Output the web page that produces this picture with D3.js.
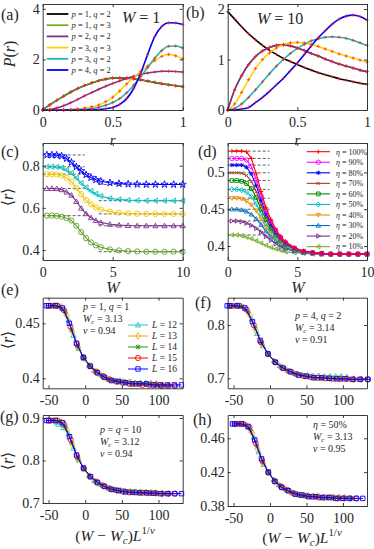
<!DOCTYPE html>
<html>
<head>
<meta charset="utf-8">
<script src="https://cdnjs.cloudflare.com/ajax/libs/d3/7.8.5/d3.min.js"></script>
<style>
  body { margin: 0; background: #fff; }
  svg { font-family: "Liberation Serif", "DejaVu Serif", serif; }
</style>
</head>
<body>
<div id="fig"></div>
<script>
// ---------------- data ----------------
// (a),(b): P(r) on a grid of r
const rGrid = [0,0.05,0.1,0.15,0.2,0.25,0.3,0.35,0.4,0.45,0.5,0.55,0.6,0.65,0.7,0.75,0.8,0.85,0.9,0.95,1];
const pqLabels = ["p = 1, q = 2","p = 1, q = 3","p = 2, q = 2","p = 3, q = 3","p = 3, q = 2","p = 4, q = 2"];
const pqColors = ["#000000","#77ac30","#7e2f8e","#ffd200","#22b5b5","#0000ff"];

// W = 1
const w1_p1q2 = [0,0.2,0.38,0.55,0.71,0.85,0.97,1.07,1.16,1.22,1.26,1.27,1.26,1.23,1.19,1.14,1.09,1.04,1.0,0.96,0.92];
const w1_p1q3 = [0,0.2,0.38,0.55,0.71,0.85,0.97,1.08,1.16,1.22,1.26,1.27,1.26,1.23,1.19,1.15,1.1,1.05,1.0,0.96,0.93];
const w1_p2q2 = [0,0.02,0.08,0.17,0.29,0.42,0.56,0.69,0.82,0.94,1.05,1.15,1.25,1.33,1.4,1.46,1.5,1.53,1.53,1.52,1.5];
const w1_p3q3 = [0,0,0,0.01,0.02,0.04,0.08,0.13,0.2,0.33,0.5,0.75,1.03,1.28,1.52,1.74,1.95,2.12,2.2,2.14,2.02];
const w1_p3q2 = [0,0,0,0,0.01,0.02,0.03,0.06,0.11,0.19,0.3,0.45,0.68,0.98,1.32,1.68,2.05,2.35,2.52,2.53,2.45];
const w1_p4q2 = [0,0,0,0,0,0,0,0.01,0.02,0.05,0.1,0.22,0.45,0.85,1.45,2.2,2.9,3.3,3.45,3.44,3.38];

// W = 10
const w10_p1q2 = [1.95,1.8,1.65,1.51,1.39,1.28,1.18,1.1,1.02,0.96,0.9,0.84,0.79,0.74,0.7,0.66,0.62,0.59,0.56,0.53,0.51];
const w10_p1q3 = [0,0.4,0.68,0.9,1.06,1.17,1.24,1.28,1.29,1.27,1.23,1.18,1.12,1.07,1.01,0.96,0.91,0.87,0.83,0.79,0.76];
const w10_p2q2 = [0,0.4,0.68,0.9,1.06,1.17,1.24,1.28,1.29,1.27,1.23,1.18,1.12,1.07,1.01,0.96,0.91,0.87,0.83,0.79,0.76];
const w10_p3q3 = [0,0.12,0.35,0.6,0.82,1.0,1.13,1.23,1.3,1.33,1.34,1.33,1.3,1.26,1.21,1.16,1.11,1.07,1.03,0.99,0.95];
const w10_p3q2 = [0,0.03,0.12,0.25,0.4,0.56,0.72,0.87,1.0,1.12,1.22,1.3,1.37,1.41,1.44,1.45,1.44,1.42,1.38,1.33,1.28];
const w10_p4q2 = [0,0,0.02,0.05,0.15,0.25,0.37,0.5,0.63,0.78,0.93,1.1,1.27,1.43,1.57,1.7,1.8,1.86,1.88,1.85,1.78];

// (c),(d): <r> versus W
const wGrid = [0.3,0.65,1,1.35,1.7,2.05,2.4,2.75,3.1,3.45,3.8,4.15,4.8,5.45,6.1,6.75,7.4,8.05,8.7,9.35,10];
const c_p4q2 = [0.851,0.851,0.850,0.846,0.834,0.816,0.795,0.775,0.757,0.744,0.733,0.726,0.719,0.715,0.713,0.712,0.711,0.711,0.711,0.711,0.711];
const c_p3q2 = [0.795,0.795,0.794,0.790,0.780,0.765,0.742,0.717,0.697,0.680,0.666,0.656,0.645,0.640,0.637,0.635,0.634,0.634,0.634,0.634,0.634];
const c_p3q3 = [0.760,0.760,0.759,0.754,0.742,0.724,0.695,0.665,0.637,0.617,0.602,0.592,0.582,0.577,0.574,0.572,0.571,0.571,0.571,0.571,0.571];
const c_p2q2 = [0.692,0.692,0.691,0.686,0.675,0.660,0.630,0.598,0.572,0.553,0.540,0.531,0.522,0.518,0.516,0.515,0.515,0.515,0.515,0.515,0.515];
const c_p1q2 = [0.563,0.563,0.562,0.558,0.551,0.540,0.515,0.485,0.456,0.436,0.422,0.413,0.403,0.398,0.395,0.393,0.392,0.392,0.392,0.392,0.392];
const cUpper = [0.851,0.795,0.760,0.692,0.563];
const cLower = [0.711,0.634,0.571,0.515,0.392];

const etaLabels = ["100%","90%","80%","70%","60%","50%","40%","30%","20%","10%"];
const eta100 = [0.529,0.529,0.529,0.528,0.519,0.498,0.474,0.452,0.436,0.423,0.413,0.406,0.398,0.393,0.391,0.390,0.389,0.389,0.389,0.389,0.389];
const eta90  = [0.519,0.519,0.519,0.517,0.508,0.490,0.468,0.448,0.433,0.421,0.412,0.405,0.397,0.393,0.391,0.390,0.389,0.389,0.389,0.389,0.389];
const eta80  = [0.510,0.510,0.510,0.507,0.498,0.482,0.462,0.444,0.430,0.419,0.411,0.404,0.397,0.393,0.391,0.390,0.389,0.389,0.389,0.389,0.389];
const eta70  = [0.4995,0.4995,0.499,0.496,0.488,0.474,0.456,0.440,0.427,0.417,0.409,0.403,0.396,0.392,0.391,0.390,0.389,0.389,0.389,0.389,0.389];
const eta60  = [0.489,0.489,0.488,0.485,0.478,0.466,0.450,0.436,0.424,0.415,0.408,0.402,0.396,0.392,0.391,0.390,0.389,0.389,0.389,0.389,0.389];
const eta50  = [0.477,0.477,0.476,0.473,0.467,0.457,0.444,0.431,0.421,0.413,0.406,0.401,0.395,0.392,0.390,0.390,0.389,0.389,0.389,0.389,0.389];
const eta40  = [0.465,0.465,0.464,0.461,0.456,0.448,0.437,0.426,0.417,0.410,0.404,0.400,0.395,0.392,0.390,0.389,0.389,0.389,0.389,0.389,0.389];
const eta30  = [0.450,0.450,0.449,0.447,0.443,0.437,0.429,0.420,0.413,0.407,0.402,0.398,0.394,0.391,0.390,0.389,0.389,0.389,0.389,0.389,0.389];
const eta20  = [0.434,0.434,0.433,0.431,0.428,0.424,0.419,0.413,0.408,0.403,0.399,0.396,0.393,0.391,0.390,0.389,0.389,0.389,0.389,0.389,0.389];
const eta10  = [0.415,0.415,0.414,0.412,0.410,0.407,0.404,0.401,0.398,0.396,0.394,0.392,0.391,0.390,0.389,0.389,0.389,0.389,0.389,0.389,0.389];
const dUpper = [0.529,0.519,0.510,0.4995,0.489,0.477,0.465,0.450,0.434,0.415];

// (e)-(h): <r>(W, L), plotted against (W - Wc) L^(1/nu)
const wScal = [0.35,0.5,1,1.5,2,2.5,3,3.5,4,4.5,5,5.5,6,6.5,7,7.5,8,8.5,9,9.5,10];
const Lsizes = [12,13,14,15,16];
const eFit = [3.13, 0.94], fFit = [3.14, 0.91], gFit = [3.12, 0.94], hFit = [3.13, 0.95];

const eL12 = [0.466,0.466,0.463,0.453,0.439,0.427,0.418,0.412,0.407,0.404,0.401,0.399,0.398,0.398,0.397,0.397,0.396,0.396,0.396,0.396,0.395];
const eL13 = [0.466,0.466,0.465,0.457,0.442,0.428,0.418,0.411,0.406,0.403,0.400,0.398,0.397,0.397,0.396,0.395,0.395,0.395,0.395,0.395,0.394];
const eL14 = [0.466,0.466,0.465,0.460,0.444,0.429,0.419,0.411,0.406,0.402,0.399,0.398,0.397,0.396,0.395,0.395,0.395,0.394,0.394,0.394,0.394];
const eL15 = [0.466,0.466,0.466,0.462,0.447,0.431,0.419,0.411,0.406,0.402,0.399,0.397,0.396,0.395,0.395,0.394,0.394,0.394,0.393,0.393,0.393];
const eL16 = [0.466,0.466,0.466,0.464,0.450,0.432,0.419,0.411,0.405,0.401,0.398,0.397,0.396,0.395,0.395,0.395,0.394,0.394,0.394,0.394,0.394];

const fL12 = [0.836,0.835,0.830,0.811,0.784,0.761,0.745,0.733,0.724,0.718,0.713,0.709,0.707,0.706,0.705,0.705,0.704,0.704,0.704,0.704,0.703];
const fL13 = [0.836,0.836,0.833,0.818,0.789,0.763,0.745,0.731,0.721,0.715,0.710,0.706,0.704,0.703,0.701,0.701,0.700,0.700,0.699,0.699,0.699];
const fL14 = [0.836,0.836,0.835,0.824,0.795,0.766,0.746,0.731,0.721,0.714,0.708,0.705,0.703,0.701,0.700,0.700,0.699,0.699,0.699,0.698,0.698];
const fL15 = [0.836,0.836,0.836,0.829,0.800,0.768,0.746,0.730,0.720,0.713,0.708,0.704,0.702,0.701,0.700,0.699,0.699,0.699,0.698,0.698,0.698];
const fL16 = [0.836,0.836,0.836,0.832,0.806,0.771,0.746,0.730,0.719,0.712,0.706,0.704,0.701,0.701,0.700,0.699,0.699,0.698,0.698,0.698,0.698];

const gL12 = [0.890,0.885,0.877,0.863,0.829,0.801,0.780,0.765,0.753,0.745,0.739,0.735,0.732,0.731,0.729,0.728,0.727,0.727,0.726,0.726,0.725];
const gL13 = [0.894,0.894,0.891,0.872,0.836,0.803,0.780,0.763,0.751,0.743,0.737,0.732,0.730,0.728,0.726,0.725,0.725,0.724,0.724,0.723,0.723];
const gL14 = [0.894,0.894,0.892,0.879,0.842,0.806,0.782,0.763,0.750,0.742,0.735,0.731,0.728,0.726,0.725,0.724,0.724,0.723,0.723,0.722,0.722];
const gL15 = [0.894,0.894,0.894,0.885,0.849,0.810,0.782,0.762,0.750,0.741,0.734,0.730,0.727,0.725,0.725,0.724,0.723,0.723,0.722,0.722,0.722];
const gL16 = [0.894,0.894,0.894,0.889,0.856,0.813,0.782,0.762,0.748,0.739,0.732,0.729,0.726,0.725,0.724,0.724,0.723,0.722,0.722,0.722,0.722];

const hL12 = [0.477,0.477,0.473,0.461,0.444,0.429,0.419,0.411,0.405,0.401,0.398,0.396,0.394,0.393,0.393,0.392,0.392,0.391,0.391,0.391,0.391];
const hL13 = [0.477,0.477,0.475,0.466,0.447,0.430,0.419,0.410,0.404,0.400,0.396,0.394,0.393,0.392,0.391,0.391,0.390,0.390,0.390,0.390,0.390];
const hL14 = [0.477,0.477,0.476,0.469,0.451,0.432,0.420,0.410,0.404,0.399,0.396,0.393,0.392,0.391,0.391,0.390,0.390,0.390,0.389,0.389,0.389];
const hL15 = [0.477,0.477,0.477,0.473,0.454,0.434,0.420,0.409,0.403,0.399,0.395,0.393,0.392,0.391,0.390,0.390,0.390,0.389,0.389,0.389,0.389];
const hL16 = [0.477,0.477,0.477,0.474,0.458,0.436,0.420,0.409,0.402,0.398,0.394,0.393,0.391,0.391,0.390,0.390,0.389,0.389,0.389,0.389,0.389];

// ---------------- drawing helpers ----------------
const ink = "#262626";
const svg = d3.select("#fig").append("svg").attr("width", 374).attr("height", 549);

// marker outlines (MATLAB style), centred on 0,0
function sym(type, s) {
  const k = s * 0.75;
  switch (type) {
    case "+": return `M${-s},0H${s}M0,${-s}V${s}`;
    case "x": return `M${-k},${-k}L${k},${k}M${-k},${k}L${k},${-k}`;
    case "*": return `M${-s},0H${s}M0,${-s}V${s}M${-k},${-k}L${k},${k}M${-k},${k}L${k},${-k}`;
    case "o": return `M${s},0A${s},${s} 0 1,1 ${-s},0A${s},${s} 0 1,1 ${s},0Z`;
    case "s": return `M${-s*0.85},${-s*0.85}H${s*0.85}V${s*0.85}H${-s*0.85}Z`;
    case "d": return `M0,${-s*1.2}L${s},0L0,${s*1.2}L${-s},0Z`;
    case "^": return `M0,${-s}L${s},${k}L${-s},${k}Z`;
    case "v": return `M0,${s}L${s},${-k}L${-s},${-k}Z`;
    case "<": return `M${-s},0L${k},${-s}L${k},${s}Z`;
    case ">": return `M${s},0L${-k},${-s}L${-k},${s}Z`;
    case "p": return d3.symbol(d3.symbolStar, s * s * 2.4)();
  }
}

// math-ish text: letters italic, _x / ^{..} sub/superscripts
function tex(sel, x, y, str, size, anchor) {
  const t = sel.append("text").attr("x", x).attr("y", y)
    .attr("font-size", size).attr("fill", ink)
    .attr("text-anchor", anchor || "start");
  const re = /([_^])(\{[^}]*\}|.)|([^_^]+)/g;
  let m, cur = 0;
  while ((m = re.exec(str))) {
    let level = 0, s;
    if (m[1]) { level = m[1] === "^" ? 1 : -1; s = m[2][0] === "{" ? m[2].slice(1, -1) : m[2]; }
    else s = m[3];
    const fs = level ? size * 0.7 : size;
    const target = level === 1 ? -0.42 * size : level === -1 ? 0.22 * size : 0;
    const runs = s.match(/[A-Za-z\u03b1-\u03c9]+|[^A-Za-z\u03b1-\u03c9]+/g) || [];
    runs.forEach((r, i) => {
      const sp = t.append("tspan").text(r).attr("font-size", fs);
      if (/[A-Za-z\u03b1-\u03c9]/.test(r)) sp.attr("font-style", "italic");
      if (i === 0 && target !== cur) { sp.attr("dy", target - cur); cur = target; }
    });
  }
  return t;
}

// upright panel tag such as (a)
function tag(x, y, str) {
  svg.append("text").attr("x", x).attr("y", y).attr("font-size", 16)
    .attr("fill", ink).text(str);
}

function makePanel(id, b, xd, yd) {
  const x = d3.scaleLinear().domain(xd).range([b.l, b.r]);
  const y = d3.scaleLinear().domain(yd).range([b.b, b.t]);
  svg.append("clipPath").attr("id", "clip-" + id).append("rect")
    .attr("x", b.l - 4).attr("y", b.t - 4).attr("width", b.r - b.l + 8).attr("height", b.b - b.t + 8);
  const g = svg.append("g");
  const plot = g.append("g").attr("clip-path", `url(#clip-${id})`);
  return { g, plot, x, y, b };
}

function drawAxes(p, xt, yt) {
  const fmt = d => String(d);
  const put = (ax, tr) => p.g.append("g").attr("transform", tr).call(ax)
    .call(s => s.selectAll("path,line").attr("stroke", ink).attr("stroke-width", 0.9))
    .call(s => s.selectAll("text").attr("fill", ink))
    .attr("font-size", 14).attr("font-family", null);
  put(d3.axisBottom(p.x).tickValues(xt).tickSizeInner(-3).tickSizeOuter(0).tickPadding(7).tickFormat(fmt), `translate(0,${p.b.b})`);
  put(d3.axisTop(p.x).tickValues(xt).tickSizeInner(-3).tickSizeOuter(0).tickFormat(""), `translate(0,${p.b.t})`);
  put(d3.axisLeft(p.y).tickValues(yt).tickSizeInner(-3).tickSizeOuter(0).tickPadding(3).tickFormat(fmt), `translate(${p.b.l},0)`);
  put(d3.axisRight(p.y).tickValues(yt).tickSizeInner(-3).tickSizeOuter(0).tickFormat(""), `translate(${p.b.r},0)`);
}

// line + markers through the panel scales
function series(p, xs, ys, color, mk, s, lw, curve) {
  const line = d3.line().x((d, i) => p.x(xs[i])).y(d => p.y(d));
  if (curve) line.curve(curve);
  p.plot.append("path").datum(ys).attr("d", line)
    .attr("fill", "none").attr("stroke", color).attr("stroke-width", lw);
  if (mk) {
    p.plot.append("g").selectAll("path").data(ys).enter().append("path")
      .attr("transform", (d, i) => `translate(${p.x(xs[i])},${p.y(d)})`)
      .attr("d", sym(mk, s)).attr("fill", "none")
      .attr("stroke", color).attr("stroke-width", 0.9);
  }
}

function redDots(p, xs, ys) {
  p.plot.append("g").selectAll("path").data(ys).enter().append("path")
    .attr("transform", (d, i) => `translate(${p.x(xs[i])},${p.y(d)})`)
    .attr("d", sym("+", 1.7)).attr("stroke", "#ff2020").attr("stroke-width", 0.8)
    .attr("opacity", 0.85);
}

function dashed(p, x0, x1, v) {
  p.plot.append("line")
    .attr("x1", p.x(x0)).attr("x2", p.x(x1)).attr("y1", p.y(v)).attr("y2", p.y(v))
    .attr("stroke", "#333").attr("stroke-width", 0.8).attr("stroke-dasharray", "3,2");
}

function rotLabel(x, y, str, size) {
  const g = svg.append("g").attr("transform", `translate(${x},${y}) rotate(-90)`);
  tex(g, 0, 0, str, size, "middle");
}

// ---------------- (a) and (b) ----------------
const pa = makePanel("a", { l: 42.7, r: 182.7, t: 4, b: 110 }, [0, 1], [0, 4.19]);
const pb = makePanel("b", { l: 227.7, r: 367, t: 4, b: 110 }, [0, 1], [0, 2.1]);
const aSets = [w1_p1q2, w1_p1q3, w1_p2q2, w1_p3q3, w1_p3q2, w1_p4q2];
const bSets = [w10_p1q2, w10_p1q3, w10_p2q2, w10_p3q3, w10_p3q2, w10_p4q2];
aSets.forEach((ys, i) => series(pa, rGrid, ys, pqColors[i], null, 0, i === 1 ? 1.2 : 1.6, d3.curveMonotoneX));
bSets.forEach((ys, i) => series(pb, rGrid, ys, pqColors[i], null, 0, 1.6, d3.curveMonotoneX));
aSets.forEach(ys => redDots(pa, rGrid, ys));
bSets.forEach(ys => redDots(pb, rGrid, ys));
drawAxes(pa, [0, 0.5, 1], [0, 2, 4]);
drawAxes(pb, [0, 0.5, 1], [0, 1, 2]);

// legend of (a)
pqLabels.forEach((lab, i) => {
  const yy = 14 + i * 11.2;
  svg.append("line").attr("x1", 46.7).attr("x2", 68.3).attr("y1", yy).attr("y2", yy)
    .attr("stroke", pqColors[i]).attr("stroke-width", 1.8);
  tex(svg, 71.5, yy + 3, lab, 8.5);
});
tex(svg, 122, 23, "W = 1", 16);
tex(svg, 257, 24, "W = 10", 16);
tag(1, 20, "(a)");
tag(186, 18, "(b)");
tex(svg, 112.7, 144.5, "r", 15, "middle");
tex(svg, 297.5, 144.5, "r", 15, "middle");
rotLabel(15, 54, "P(r)", 16);

// ---------------- (c) ----------------
const pc = makePanel("c", { l: 42.7, r: 182.7, t: 143, b: 260 }, [0, 10], [0.3526, 0.9077]);
const cSets = [c_p4q2, c_p3q2, c_p3q3, c_p2q2, c_p1q2];
const cColors = ["#0000ff", "#00bcbc", "#f2c500", "#7e2f8e", "#5f9e2a"];
const cMarks = ["p", "<", "o", "^", "o"];
cUpper.forEach(v => dashed(pc, 0, 3, v));
cLower.forEach(v => dashed(pc, 4, 10, v));
cSets.forEach((ys, i) => series(pc, wGrid, ys, cColors[i], cMarks[i], 2.6, 1.1));
drawAxes(pc, [0, 5, 10], [0.4, 0.6, 0.8]);
tag(1, 157, "(c)");
tex(svg, 113, 293, "W", 16, "middle");
rotLabel(13, 197, "\u27e8r\u27e9", 16);

// ---------------- (d) ----------------
const pd = makePanel("d", { l: 227.7, r: 367, t: 143, b: 260 }, [0, 10], [0.381, 0.540]);
const dSets = [eta100, eta90, eta80, eta70, eta60, eta50, eta40, eta30, eta20, eta10];
const dColors = ["#ff0000", "#ff00ff", "#0000ff", "#a0401a", "#008a00", "#00c0c0", "#f08c00", "#0072bd", "#7e2f8e", "#77ac30"];
const dMarks = ["+", "o", "*", "x", "s", "d", "v", "^", ">", "<"];
dUpper.forEach(v => dashed(pd, 0, 3, v));
dSets.slice().reverse().forEach((ys, j) => {
  const i = dSets.length - 1 - j;
  series(pd, wGrid, ys, dColors[i], dMarks[i], 2.2, 1.1);
});
drawAxes(pd, [0, 5, 10], [0.4, 0.45, 0.5]);
etaLabels.forEach((lab, i) => {
  const yy = 151.7 + i * 10.55;
  svg.append("line").attr("x1", 306.7).attr("x2", 330).attr("y1", yy).attr("y2", yy)
    .attr("stroke", dColors[i]).attr("stroke-width", 1.1);
  svg.append("path").attr("transform", `translate(318.3,${yy})`).attr("d", sym(dMarks[i], 2.2))
    .attr("fill", "none").attr("stroke", dColors[i]).attr("stroke-width", 0.9);
  tex(svg, 336, yy + 2.8, "\u03b7 = " + lab, 8);
});
tag(198, 157, "(d)");
tex(svg, 298, 293, "W", 16, "middle");

// ---------------- (e)-(h) scaling collapse ----------------
const Lcolors = ["#20c5c5", "#eda800", "#1a9a1a", "#ff0000", "#0000ff"];
const Lmarks = ["^", "d", "*", "o", "s"];
function collapse(p, fit, sets) {
  sets.forEach((ys, i) => {
    const k = Math.pow(Lsizes[i], 1 / fit[1]);
    const xs = wScal.map(w => (w - fit[0]) * k);
    series(p, xs, ys, Lcolors[i], Lmarks[i], 2.6, 1.0);
  });
}
const xCol = [-58, 133];
const pe = makePanel("e", { l: 42.7, r: 182.7, t: 297.7, b: 388.3 }, xCol, [0.3909, 0.4733]);
const pf = makePanel("f", { l: 227.7, r: 367, t: 297.7, b: 388.3 }, xCol, [0.6812, 0.8512]);
const pg = makePanel("g", { l: 42.7, r: 182.7, t: 415, b: 503 }, xCol, [0.7, 0.907]);
const ph = makePanel("h", { l: 227.7, r: 367, t: 415, b: 506 }, xCol, [0.38, 0.4875]);
collapse(pe, eFit, [eL12, eL13, eL14, eL15, eL16]);
collapse(pf, fFit, [fL12, fL13, fL14, fL15, fL16]);
collapse(pg, gFit, [gL12, gL13, gL14, gL15, gL16]);
collapse(ph, hFit, [hL12, hL13, hL14, hL15, hL16]);
const xColTicks = [-50, 0, 50, 100];
drawAxes(pe, xColTicks, [0.4, 0.45]);
drawAxes(pf, xColTicks, [0.7, 0.8]);
drawAxes(pg, xColTicks, [0.7, 0.8, 0.9]);
drawAxes(ph, xColTicks, [0.38, 0.42, 0.46]);

// legend of (e)
Lsizes.forEach((L, i) => {
  const yy = 325 + i * 11;
  svg.append("line").attr("x1", 128).attr("x2", 148).attr("y1", yy).attr("y2", yy)
    .attr("stroke", Lcolors[i]).attr("stroke-width", 1);
  svg.append("path").attr("transform", `translate(138,${yy})`).attr("d", sym(Lmarks[i], 2.6))
    .attr("fill", "none").attr("stroke", Lcolors[i]).attr("stroke-width", 0.9);
  tex(svg, 152, yy + 3.3, "L = " + L, 9.5);
});

function fitText(x, y0, first, fit) {
  tex(svg, x, y0, first, 10);
  tex(svg, x, y0 + 12, "W_c = " + fit[0].toFixed(2), 10);
  tex(svg, x, y0 + 24, "\u03bd = " + fit[1].toFixed(2), 10);
}
fitText(83, 310, "p = 1, q = 1", eFit);
fitText(295, 318.5, "p = 4, q = 2", fFit);
fitText(100, 433, "p = q = 10", gFit);
fitText(313, 428, "\u03b7 = 50%", hFit);

tag(1, 295, "(e)");
tag(195, 308, "(f)");
tag(0, 422, "(g)");
tag(193, 425, "(h)");
rotLabel(13, 340, "\u27e8r\u27e9", 16);
rotLabel(13, 461, "\u27e8r\u27e9", 16);
tex(svg, 115, 541, "(W \u2212 W_c)L^{1/\u03bd}", 15.5, "middle");
tex(svg, 302, 543, "(W \u2212 W_c)L^{1/\u03bd}", 15.5, "middle");
</script>
</body>
</html>
